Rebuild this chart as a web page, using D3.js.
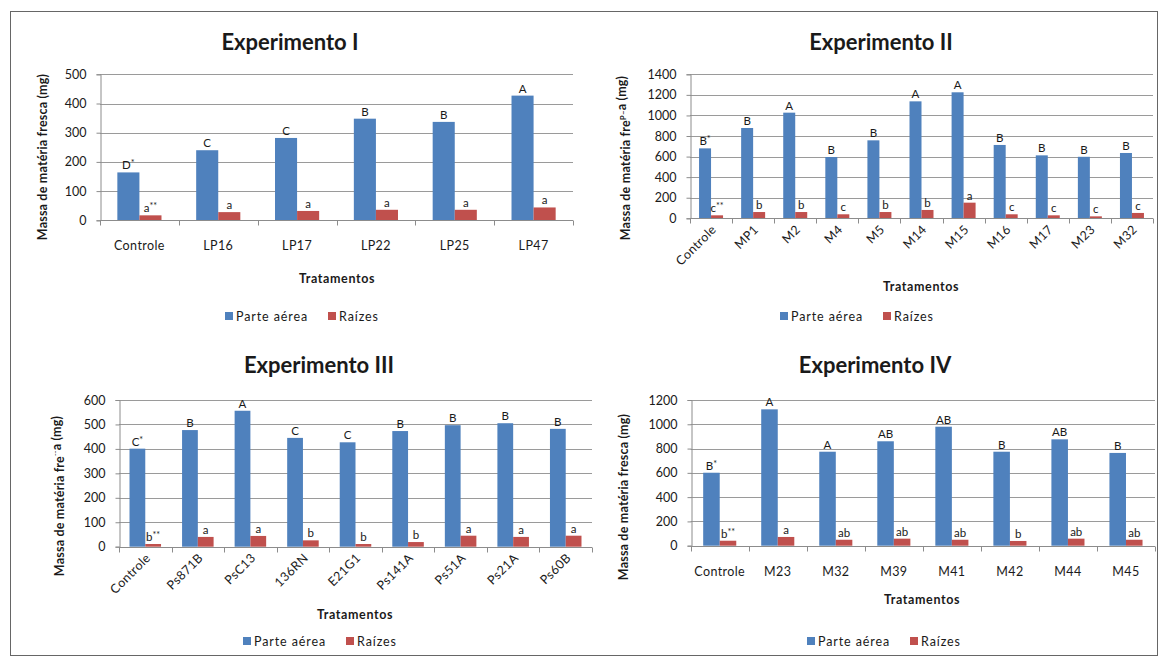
<!DOCTYPE html>
<html>
<head>
<meta charset="utf-8">
<script src="https://cdn.jsdelivr.net/npm/d3@7"></script>
<style>
  html, body { margin: 0; padding: 0; background: #fff; }
  svg { display: block; }
  text { font-family: Lato, "Open Sans", sans-serif; fill: #1a1a1a; }
</style>
</head>
<body>
<svg id="chart" width="1161" height="661"></svg>
<script>
// ---- Experimento I ----
const catsI = ["Controle", "LP16", "LP17", "LP22", "LP25", "LP47"];
const aereaI = [164, 240, 282, 348, 337, 427];
const raizesI = [17, 28, 32, 36, 36, 44];
const letrasAereaI = ["D*", "C", "C", "B", "B", "A"];
const letrasRaizesI = ["a**", "a", "a", "a", "a", "a"];
const ticksI = [0, 100, 200, 300, 400, 500];

// ---- Experimento II ----
const catsII = ["Controle", "MP1", "M2", "M4", "M5", "M14", "M15", "M16", "M17", "M23", "M32"];
const aereaII = [680, 878, 1027, 596, 758, 1137, 1225, 713, 612, 598, 635];
const raizesII = [29, 61, 61, 39, 61, 81, 152, 39, 29, 19, 52];
const letrasAereaII = ["B*", "B", "A", "B", "B", "A", "A", "B", "B", "B", "B"];
const letrasRaizesII = ["c**", "b", "b", "c", "b", "b", "a", "c", "c", "c", "c"];
const ticksII = [0, 200, 400, 600, 800, 1000, 1200, 1400];

// ---- Experimento III ----
const catsIII = ["Controle", "Ps871B", "PsC13", "136RN", "E21G1", "Ps141A", "Ps51A", "Ps21A", "Ps60B"];
const aereaIII = [401, 477, 556, 445, 427, 473, 497, 505, 482];
const raizesIII = [11, 40, 44, 26, 11, 19, 45, 40, 45];
const letrasAereaIII = ["C*", "B", "A", "C", "C", "B", "B", "B", "B"];
const letrasRaizesIII = ["b**", "a", "a", "b", "b", "b", "a", "a", "a"];
const ticksIII = [0, 100, 200, 300, 400, 500, 600];

// ---- Experimento IV ----
const catsIV = ["Controle", "M23", "M32", "M39", "M41", "M42", "M44", "M45"];
const aereaIV = [601, 1123, 774, 860, 980, 774, 876, 764];
const raizesIV = [41, 72, 49, 58, 49, 39, 58, 49];
const letrasAereaIV = ["B*", "A", "A", "AB", "AB", "B", "AB", "B"];
const letrasRaizesIV = ["b**", "a", "ab", "ab", "ab", "b", "ab", "ab"];
const ticksIV = [0, 200, 400, 600, 800, 1000, 1200];

const seriesNames = ["Parte aérea", "Raízes"];
const colors = ["#4F81BD", "#C0504D"];

const svg = d3.select("#chart");

// outer frame around the figure
svg.append("rect")
  .attr("x", 10.5).attr("y", 11.5)
  .attr("width", 1147).attr("height", 644)
  .attr("fill", "none").attr("stroke", "#666").attr("stroke-width", 1);

function drawPanel(p) {
  const g = svg.append("g");
  const x = d3.scaleBand().domain(p.cats).range([p.left, p.right]).paddingInner(0).paddingOuter(0);
  const y = d3.scaleLinear().domain([0, p.ticks[p.ticks.length - 1]]).range([p.bottom, p.top]);
  const bw = x.bandwidth() * p.barFrac;

  // gridlines
  g.selectAll("line.grid").data(p.ticks.slice(1)).join("line")
    .attr("x1", p.left).attr("x2", p.right)
    .attr("y1", d => Math.round(y(d)) + 0.5).attr("y2", d => Math.round(y(d)) + 0.5)
    .attr("stroke", "#9a9a9a").attr("stroke-width", 1);

  // y axis
  const yAxis = d3.axisLeft(y).tickValues(p.ticks).tickSize(4).tickPadding(10).tickFormat(d3.format("d"));
  const ya = g.append("g").attr("transform", `translate(${Math.round(p.left) + 0.5},0)`).call(yAxis);
  ya.select(".domain").attr("stroke", "#8c8c8c");
  ya.selectAll(".tick line").attr("stroke", "#8c8c8c");
  ya.selectAll(".tick text").style("font-size", "12.5px").style("font-family", "Lato, sans-serif").attr("fill", "#1a1a1a");

  // bars
  const seriesVals = [p.aerea, p.raizes];
  const seriesLbls = [p.la, p.lr];
  seriesVals.forEach((vals, s) => {
    g.selectAll(null).data(p.cats).join("rect")
      .attr("x", d => x(d) + x.bandwidth() / 2 - bw + s * bw)
      .attr("width", bw)
      .attr("y", (d, i) => y(vals[i]))
      .attr("height", (d, i) => y(0) - y(vals[i]))
      .attr("fill", colors[s]);
  });

  // x axis
  const xa = g.append("g").attr("transform", `translate(0,${Math.round(p.bottom) + 0.5})`);
  xa.append("line").attr("x1", p.left).attr("x2", p.right).attr("stroke", "#8c8c8c");
  const bounds = p.cats.map(c => x(c)).concat([p.right]);
  xa.selectAll("line.tk").data(bounds).join("line")
    .attr("x1", d => Math.round(d) + 0.5).attr("x2", d => Math.round(d) + 0.5)
    .attr("y1", 0).attr("y2", 5).attr("stroke", "#8c8c8c");

  // letter labels above bars
  seriesVals.forEach((vals, s) => {
    const t = g.selectAll(null).data(p.cats).join("text")
      .attr("x", d => x(d) + x.bandwidth() / 2 - bw / 2 + s * bw)
      .attr("y", (d, i) => y(vals[i]) - 3)
      .attr("text-anchor", "middle")
      .style("font-size", "11.5px");
    t.each(function (d, i) {
      const lbl = seriesLbls[s][i];
      const m = lbl.match(/^([A-Za-z]+)(\**)$/);
      const sel = d3.select(this);
      sel.append("tspan").text(m[1]);
      if (m[2]) sel.append("tspan").attr("dy", -3).style("font-size", "9px").text(m[2]);
    });
  });

  // category labels
  const cl = g.selectAll(null).data(p.cats).join("text")
    .style("font-size", "12.5px").style("letter-spacing", "0.4px")
    .text(d => d);
  if (p.rotate) {
    cl.attr("text-anchor", "end")
      .attr("transform", d => `translate(${x(d) + x.bandwidth() / 2 + 6},${p.bottom + 12}) rotate(-45)`);
  } else {
    cl.attr("text-anchor", "middle")
      .attr("x", d => x(d) + x.bandwidth() / 2)
      .attr("y", p.bottom + 30);
  }

  // titles
  g.append("text").attr("x", p.titleX).attr("y", p.titleY).attr("text-anchor", "middle")
    .style("font-size", "22px").style("font-weight", "700").text(p.title);
  g.append("text").attr("x", p.xtX).attr("y", p.xtY).attr("text-anchor", "middle")
    .style("font-size", "12.5px").style("font-weight", "700").style("letter-spacing", "0.6px")
    .text("Tratamentos");
  const yt = g.append("text")
    .attr("transform", `translate(${p.ytX},${p.ytY}) rotate(-90)`)
    .attr("text-anchor", "middle")
    .style("font-size", "12.5px").style("font-weight", "700").style("letter-spacing", "0.2px");
  p.yTitle.forEach(part => {
    const ts = yt.append("tspan").text(part.t);
    if (part.sup) ts.attr("dy", part.dy).style("font-size", "8px");
  });

  // legend
  const lg = g.append("g").attr("transform", `translate(${p.legX},${p.legY})`);
  const offs = [0, p.legGap];
  seriesNames.forEach((n, s) => {
    lg.append("rect").attr("x", offs[s]).attr("y", -4).attr("width", 8).attr("height", 8).attr("fill", colors[s]);
    lg.append("text").attr("x", offs[s] + 11).attr("y", 4.5)
      .style("font-size", "12.5px").style("letter-spacing", "0.9px").text(n);
  });
}

const yTitleFull = [{ t: "Massa de matéria fresca (mg)" }];
const yTitleII = [{ t: "Massa de matéria fre" }, { t: "P", sup: true, dy: -4 }, { t: "–", sup: true, dy: 0 }, { t: "a (mg)", sup: false }];

drawPanel({
  cats: catsI, aerea: aereaI, raizes: raizesI, la: letrasAereaI, lr: letrasRaizesI, ticks: ticksI,
  left: 100, right: 573, top: 74.3, bottom: 220.3, barFrac: 0.28, rotate: false,
  title: "Experimento I", titleX: 290, titleY: 50,
  xtX: 337, xtY: 283, ytX: 47, ytY: 157, yTitle: yTitleFull,
  legX: 225, legY: 316, legGap: 103
});
drawPanel({
  cats: catsII, aerea: aereaII, raizes: raizesII, la: letrasAereaII, lr: letrasRaizesII, ticks: ticksII,
  left: 690, right: 1153, top: 74.3, bottom: 218.3, barFrac: 0.285, rotate: true,
  title: "Experimento II", titleX: 881, titleY: 50,
  xtX: 921, xtY: 291, ytX: 630, ytY: 158,
  yTitle: [{ t: "Massa de matéria fre" }, { t: "P–", sup: true, dy: -4 }, { t: "a (mg)", dy: 4, back: true }],
  legX: 780, legY: 316, legGap: 103
});
drawPanel({
  cats: catsIII, aerea: aereaIII, raizes: raizesIII, la: letrasAereaIII, lr: letrasRaizesIII, ticks: ticksIII,
  left: 119, right: 592, top: 400, bottom: 546.7, barFrac: 0.3, rotate: true,
  title: "Experimento III", titleX: 319, titleY: 373,
  xtX: 355, xtY: 619, ytX: 64, ytY: 496,
  yTitle: [{ t: "Massa de matéria fre" }, { t: "⁻⁻", sup: true, dy: -3 }, { t: "a (mg)", dy: 3, back: true }],
  legX: 243, legY: 641, legGap: 103
});
drawPanel({
  cats: catsIV, aerea: aereaIV, raizes: raizesIV, la: letrasAereaIV, lr: letrasRaizesIV, ticks: ticksIV,
  left: 690.7, right: 1155, top: 400, bottom: 545.7, barFrac: 0.285, rotate: false,
  title: "Experimento IV", titleX: 875, titleY: 373,
  xtX: 922, xtY: 604, ytX: 628, ytY: 497, yTitle: yTitleFull,
  legX: 807, legY: 641, legGap: 103
});
</script>
</body>
</html>
